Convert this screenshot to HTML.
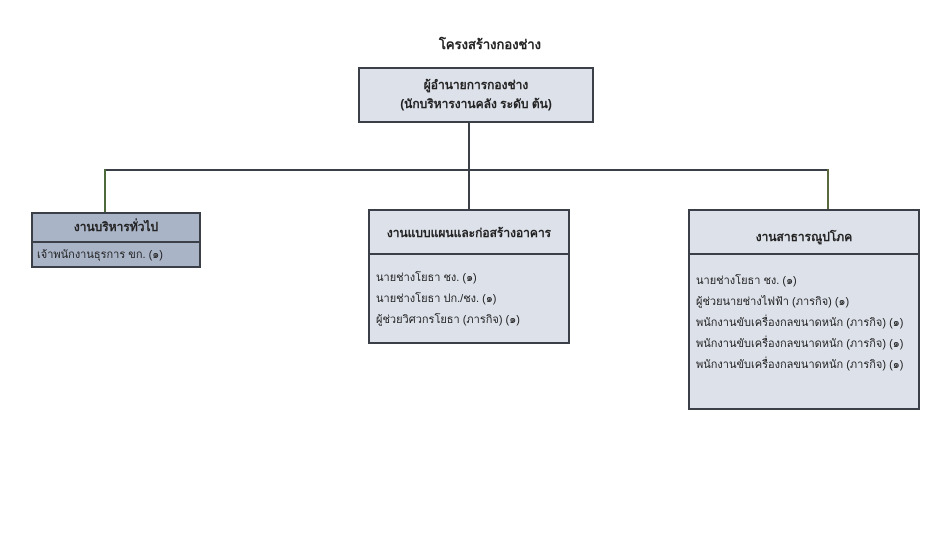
<!DOCTYPE html>
<html><head><meta charset="utf-8"><style>
body{margin:0;width:950px;height:534px;background:#fff;position:relative;overflow:hidden;font-family:"Liberation Sans","Noto Sans CJK SC",sans-serif;color:#222;}
.a{position:absolute;}
.box{position:absolute;box-sizing:border-box;border:2px solid #3b4048;background:#dde1ea;}
.hd{box-sizing:border-box;border-bottom:2px solid #3b4048;text-align:center;font-weight:bold;font-size:12px;}
.bd{font-size:11px;padding-left:6px;line-height:21px;}
.l{position:absolute;background:#3b4048;}
</style></head><body>
<div class="a" style="left:390px;top:34px;width:200px;text-align:center;font-size:13px;font-weight:bold;">โครงสร้างกองช่าง</div>
<div class="box" style="left:358px;top:67px;width:236px;height:56px;text-align:center;font-size:12px;font-weight:bold;line-height:19px;padding-top:7px;">ผู้อำนายการกองช่าง<br>(นักบริหารงานคลัง ระดับ ต้น)</div>
<div class="l" style="left:468px;top:123px;width:2px;height:87px;"></div>
<div class="l" style="left:104px;top:169px;width:725px;height:2px;"></div>
<div class="l" style="left:104px;top:169px;width:2px;height:44px;background:#4d6a3c;"></div>
<div class="l" style="left:827px;top:169px;width:2px;height:41px;background:#5a6a3c;"></div>
<div class="box" style="left:31px;top:212px;width:170px;height:56px;background:#aab4c7;">
<div class="hd" style="height:29px;line-height:27px;">งานบริหารทั่วไป</div>
<div class="bd" style="line-height:24px;padding-left:4px;">เจ้าพนักงานธุรการ ขก. (๑)</div></div>
<div class="box" style="left:368px;top:209px;width:202px;height:135px;">
<div class="hd" style="height:44px;line-height:44px;">งานแบบแผนและก่อสร้างอาคาร</div>
<div class="bd" style="padding-top:13px;">นายช่างโยธา ชง. (๑)<br>นายช่างโยธา ปก./ชง. (๑)<br>ผู้ช่วยวิศวกรโยธา (ภารกิจ) (๑)</div></div>
<div class="box" style="left:688px;top:209px;width:232px;height:201px;">
<div class="hd" style="height:44px;line-height:52px;">งานสาธารณูปโภค</div>
<div class="bd" style="padding-top:16px;">นายช่างโยธา ชง. (๑)<br>ผู้ช่วยนายช่างไฟฟ้า (ภารกิจ) (๑)<br>พนักงานขับเครื่องกลขนาดหนัก (ภารกิจ) (๑)<br>พนักงานขับเครื่องกลขนาดหนัก (ภารกิจ) (๑)<br>พนักงานขับเครื่องกลขนาดหนัก (ภารกิจ) (๑)</div></div>
</body></html>
